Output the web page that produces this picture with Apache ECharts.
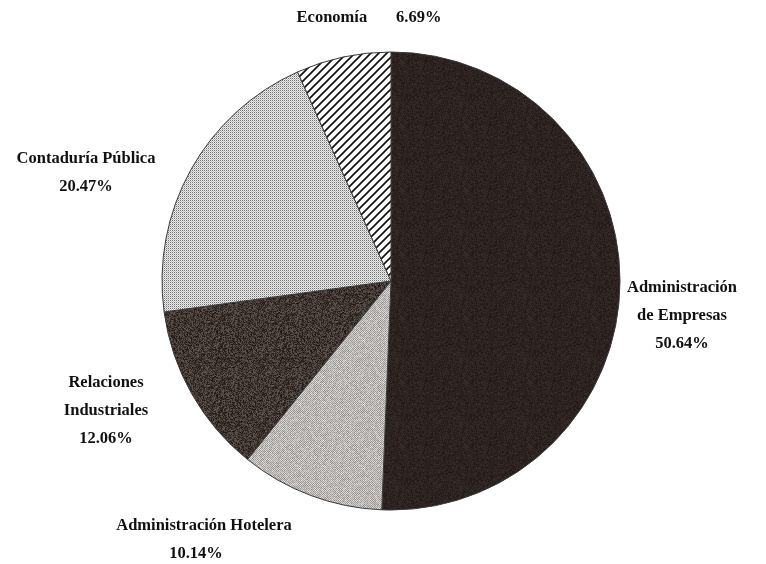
<!DOCTYPE html>
<html>
<head>
<meta charset="utf-8">
<script src="https://cdn.jsdelivr.net/npm/echarts@6/dist/echarts.min.js"></script>
<style>
html,body{margin:0;padding:0;background:#fff;}
#chart{width:766px;height:564px;}
</style>
</head>
<body>
<div id="chart"></div>
<script>
// ---- data ----
const categories = ['Administración de Empresas', 'Administración Hotelera', 'Relaciones Industriales', 'Contaduría Pública', 'Economía'];
const labelLines = [['Administración', 'de Empresas'], ['Administración Hotelera'], ['Relaciones', 'Industriales'], ['Contaduría Pública'], ['Economía']];
const values = [50.64, 10.14, 12.06, 20.47, 6.69];

// ---- layout (label anchors: center x, first-line center y) ----
const labelPos = [[682, 288], [204, 526], [106, 383], [86, 159], [369, 18]];
const lineH = 28;

// deterministic pseudo-random for textures
let seed = 12345;
function rnd(){ seed = (seed * 1103515245 + 12345) & 0x7fffffff; return seed / 0x7fffffff; }

function makeTile(w, h, draw){
  const c = document.createElement('canvas');
  c.width = w; c.height = h;
  const ctx = c.getContext('2d');
  draw(ctx, w, h);
  return c;
}
function noiseTile(base, spread, size){
  return makeTile(size, size, (ctx, w, h) => {
    const img = ctx.createImageData(w, h);
    for (let i = 0; i < w*h; i++){
      const n = (rnd() - 0.5) * spread;
      img.data[i*4]   = Math.max(0, Math.min(255, base[0] + n));
      img.data[i*4+1] = Math.max(0, Math.min(255, base[1] + n));
      img.data[i*4+2] = Math.max(0, Math.min(255, base[2] + n));
      img.data[i*4+3] = 255;
    }
    ctx.putImageData(img, 0, 0);
  });
}
const patEmpresas = noiseTile([44, 35, 33], 22, 64);
const patRelaciones = noiseTile([64, 54, 50], 70, 64);
const patHotelera = makeTile(64, 64, (ctx, w, h) => {
  const img = ctx.createImageData(w, h);
  for (let y = 0; y < h; y++) for (let x = 0; x < w; x++){
    const i = (y*w + x) * 4;
    let v = ((x + y) % 2 === 0) ? 160 : 212;
    v += (rnd() - 0.5) * 40;
    img.data[i] = v; img.data[i+1] = v - 3; img.data[i+2] = v - 5; img.data[i+3] = 255;
  }
  ctx.putImageData(img, 0, 0);
});
const patContaduria = makeTile(2, 2, (ctx, w, h) => {
  ctx.fillStyle = '#ebebeb'; ctx.fillRect(0, 0, w, h);
  ctx.fillStyle = '#727272'; ctx.fillRect(0, 0, 1, 1);
  ctx.fillStyle = '#bdbdbd'; ctx.fillRect(1, 1, 1, 1);
});
const patEconomia = makeTile(8, 8, (ctx, w, h) => {
  ctx.fillStyle = '#ffffff'; ctx.fillRect(0, 0, w, h);
  ctx.strokeStyle = '#111'; ctx.lineWidth = 1.7;
  for (let k = -1; k <= 1; k++){
    ctx.beginPath();
    ctx.moveTo(k*8 - 1, h + 1);
    ctx.lineTo(k*8 + w + 1, -1);
    ctx.stroke();
  }
});
const patterns = [patEmpresas, patHotelera, patRelaciones, patContaduria, patEconomia];

const chart = echarts.init(document.getElementById('chart'), null, {renderer: 'canvas'});
chart.setOption({
  backgroundColor: '#ffffff',
  animation: false,
  series: [{
    type: 'pie',
    center: [391, 281],
    radius: 229,
    startAngle: 90,
    clockwise: true,
    avoidLabelOverlap: false,
    silent: true,
    data: categories.map((name, i) => ({
      name: name,
      value: values[i],
      itemStyle: { color: { image: patterns[i], repeat: 'repeat' } }
    })),
    itemStyle: { borderColor: '#3a3a3a', borderWidth: 1 },
    labelLine: { show: false },
    label: {
      show: true,
      position: 'outside',
      fontFamily: 'Liberation Serif',
      fontWeight: 'bold',
      fontSize: 16.5,
      color: '#111',
      lineHeight: lineH,
      align: 'center',
      rich: {
        h: { fontFamily: 'Liberation Serif', fontWeight: 'bold', fontSize: 16.5, color: '#111', lineHeight: lineH, padding: [0, 16, 0, 0] }
      },
      formatter: (p) => {
        const i = p.dataIndex;
        const pct = values[i].toFixed(2) + '%';
        if (i === 4) return labelLines[i][0] + '       ' + pct;
        if (i === 1) return labelLines[i].join('\n') + '\n{h|' + pct + '}';
        return labelLines[i].join('\n') + '\n' + pct;
      }
    },
    labelLayout: (p) => ({
      x: labelPos[p.dataIndex][0],
      y: labelPos[p.dataIndex][1] - lineH / 2,
      align: 'center',
      verticalAlign: 'top',
      hideOverlap: false
    })
  }]
});
</script>
</body>
</html>
